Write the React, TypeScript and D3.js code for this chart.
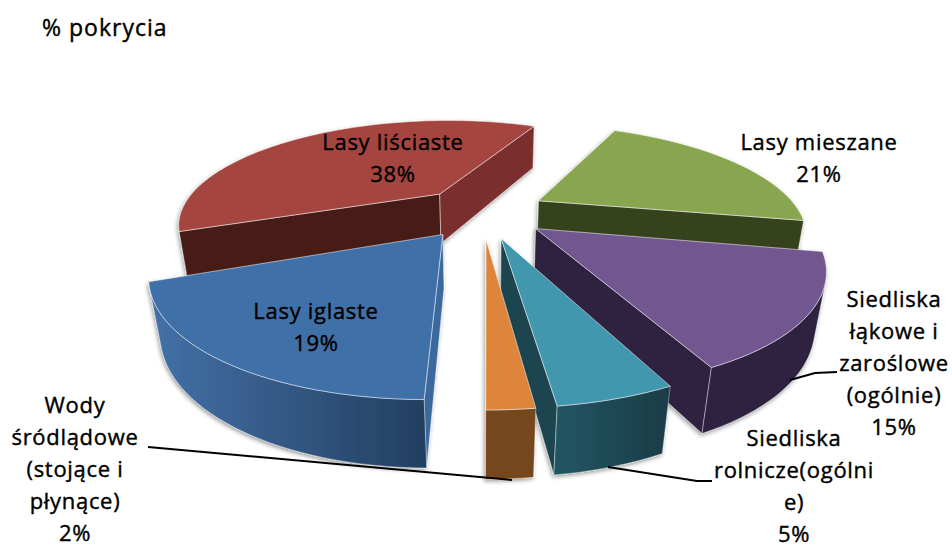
import * as d3 from "d3";

const categories = [
  "Lasy mieszane",
  "Siedliska łąkowe i zaroślowe (ogólnie)",
  "Siedliska rolnicze(ogólnie)",
  "Wody śródlądowe (stojące i płynące)",
  "Lasy iglaste",
  "Lasy liściaste",
];
const coverage = [21, 15, 5, 2, 19, 38];

const labelLines = [
  ["Lasy mieszane"],
  ["Siedliska", "łąkowe i", "zaroślowe", "(ogólnie)"],
  ["Siedliska", "rolnicze(ogólni", "e)"],
  ["Wody", "śródlądowe", "(stojące i", "płynące)"],
  ["Lasy iglaste"],
  ["Lasy liściaste"],
];
const labelX = [819, 894, 794, 75, 316, 393];
const labelY = [150, 307, 446, 413, 319, 150];

const topColors = ["#88a64f", "#72578f", "#4197ae", "#dc853b", "#4170a8", "#a5443f"];
const startWallColors = ["#36431f", "#2e2440", "#1c4650", "#75471f", "#3a679d", "#471c19"];
const endWallColors = ["#36431f", "#2e2440", "#1b4550", "#75471f", "#2d5a8e", "#7a2e2d"];
const rimFromColors = ["#36431f", "#2e2440", "#1a3d48", "#75471f", "#233e5f", "#471c19"];
const rimToColors = ["#36431f", "#2e2440", "#235663", "#75471f", "#426fa5", "#471c19"];

const leaders = [
  [[790, 380], [815, 373], [837, 372]],
  [[608, 467], [697, 481], [712, 481]],
  [[148, 447], [512, 480]],
];

const width = 952;
const height = 549;
const explode = 0.25;
const startDeg = 25.5;

type P = [number, number];

// flat perspective: y grows toward the viewer, z is 0 on top and 1 on the bottom
function project(x: number, y: number, z: number): P {
  const w = 1 - 0.28 * y + 0.03 * z;
  return [482 + (261 * x) / w, 212 + (103 * y + 53 * z) / w];
}

const pie = d3
  .pie<number>()
  .sort(null)
  .startAngle((startDeg * Math.PI) / 180)
  .endAngle((startDeg * Math.PI) / 180 + 2 * Math.PI);

const line = d3.line<P>();
const closed = (pts: P[]) => line(pts) + "Z";
const faces = (q: P[]) => d3.polygonArea(q) < 0;

const arcs = pie(coverage).map((a, i) => {
  const mid = (a.startAngle + a.endAngle) / 2;
  const cx = Math.sin(mid) * explode;
  const cy = -Math.cos(mid) * explode;
  const steps = Math.max(3, Math.round(((a.endAngle - a.startAngle) * 180) / Math.PI / 2));
  const angles = d3.range(steps + 1).map((k) => a.startAngle + ((a.endAngle - a.startAngle) * k) / steps);
  const rim = (t: number, z: number) => project(cx + Math.sin(t), cy - Math.cos(t), z);
  const centerTop = project(cx, cy, 0);
  const centerBottom = project(cx, cy, 1);
  return { i, depth: -Math.cos(mid), angles, rim, centerTop, centerBottom, a };
});

const drawOrder = [...arcs].sort((p, q) => d3.ascending(p.depth, q.depth));

function Slice({ s }: { s: (typeof arcs)[number] }) {
  const { i, angles, rim, centerTop, centerBottom } = s;
  const a0 = angles[0];
  const a1 = angles[angles.length - 1];
  const startQuad: P[] = [rim(a0, 0), centerTop, centerBottom, rim(a0, 1)];
  const endQuad: P[] = [centerTop, rim(a1, 0), rim(a1, 1), centerBottom];
  const topPath: P[] = [centerTop, ...angles.map((t) => rim(t, 0))];

  // only the part of the outer wall that looks at the viewer
  const seen = angles.filter((t, k) => {
    const next = angles[k + 1];
    const prev = angles[k - 1];
    const front = (p: number, q: number) => faces([rim(q, 0), rim(p, 0), rim(p, 1), rim(q, 1)]);
    return (next !== undefined && front(t, next)) || (prev !== undefined && front(prev, t));
  });
  const wall: P[] = seen.length
    ? [...seen.map((t) => rim(t, 0)), ...[...seen].reverse().map((t) => rim(t, 1))]
    : [];
  const gx1 = seen.length ? rim(seen[0], 1)[0] : 0;
  const gx2 = seen.length ? rim(seen[seen.length - 1], 1)[0] : 1;

  return (
    <g filter="url(#sliceShadow)">
      {faces(startQuad) && (
        <path d={closed(startQuad)} fill={startWallColors[i]} stroke="#fff" strokeOpacity={0.45} strokeWidth={1} />
      )}
      {faces(endQuad) && (
        <path d={closed(endQuad)} fill={endWallColors[i]} stroke="#fff" strokeOpacity={0.45} strokeWidth={1} />
      )}
      {wall.length > 0 && (
        <>
          <linearGradient id={`rim${i}`} gradientUnits="userSpaceOnUse" x1={gx1} y1={0} x2={gx2} y2={0}>
            <stop offset="0%" stopColor={rimFromColors[i]} />
            <stop offset="100%" stopColor={rimToColors[i]} />
          </linearGradient>
          <path d={closed(wall)} fill={`url(#rim${i})`} stroke="#fff" strokeOpacity={0.35} strokeWidth={1} />
        </>
      )}
      <path d={closed(topPath)} fill={topColors[i]} stroke="#fff" strokeOpacity={0.5} strokeWidth={1} strokeLinejoin="round" />
    </g>
  );
}

export default function App() {
  const textStyle = {
    fontFamily: "'Open Sans', Lato, sans-serif",
    fontSize: 22,
    letterSpacing: 0.7,
    fill: "#000",
    stroke: "#000",
    strokeWidth: 0.4,
  };
  return (
    <svg
      width={width}
      height={height}
      viewBox={`0 0 ${width} ${height}`}
      style={{ position: "absolute", left: 0, top: 0, display: "block", background: "#fff" }}
    >
      <defs>
        <filter id="sliceShadow" x="-10%" y="-10%" width="120%" height="120%">
          <feDropShadow dx={-1} dy={2} stdDeviation={2} floodColor="#000" floodOpacity={0.4} />
        </filter>
      </defs>
      <text x={42} y={36} style={{ ...textStyle, fontSize: 23, letterSpacing: 1 }}>% pokrycia</text>
      {drawOrder.map((s) => (
        <Slice key={categories[s.i]} s={s} />
      ))}
      {leaders.map((pts, i) => (
        <path key={i} d={line(pts as P[]) ?? ""} fill="none" stroke="#000" strokeWidth={2} />
      ))}
      {categories.map((c, i) => (
        <text key={c} textAnchor="middle" style={textStyle}>
          {[...labelLines[i], `${coverage[i]}%`].map((t, k) => (
            <tspan key={k} x={labelX[i]} y={labelY[i] + k * 32}>{t}</tspan>
          ))}
        </text>
      ))}
    </svg>
  );
}
